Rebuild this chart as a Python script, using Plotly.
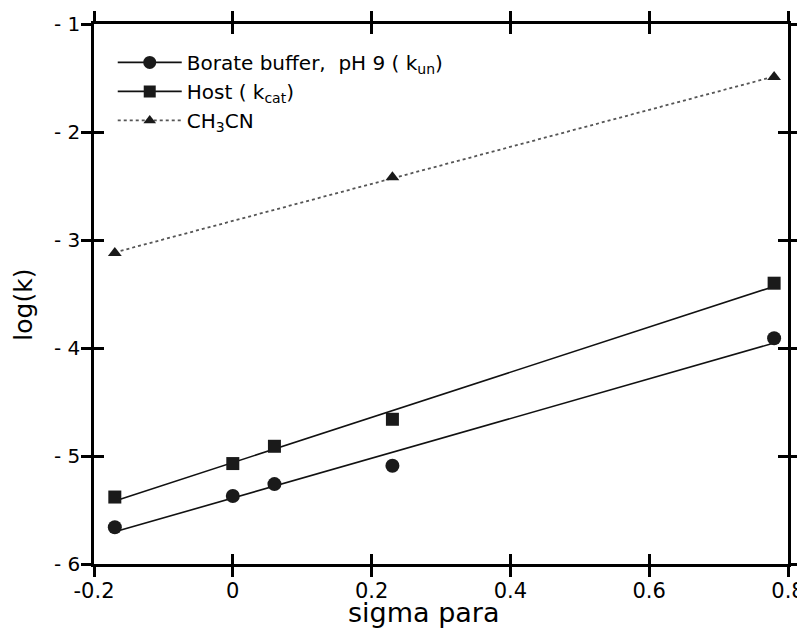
import numpy as np
import plotly.graph_objects as go

# ---- data ----
sigma_borate = [-0.17, 0.0, 0.06, 0.23, 0.78]
logk_borate = [-5.66, -5.37, -5.26, -5.09, -3.91]

sigma_host = [-0.17, 0.0, 0.06, 0.23, 0.78]
logk_host = [-5.38, -5.07, -4.91, -4.66, -3.40]

sigma_ch3cn = [-0.17, 0.23, 0.78]
logk_ch3cn = [-3.12, -2.42, -1.49]

x_tickvals = [-0.2, 0, 0.2, 0.4, 0.6, 0.8]
x_ticktext = ["-0.2", "0", "0.2", "0.4", "0.6", "0.8"]
y_tickvals = [-6, -5, -4, -3, -2, -1]
y_ticktext = ["- 6", "- 5", "- 4", "- 3", "- 2", "- 1"]

legend_names = ["Borate buffer,  pH 9 ( k<sub>un</sub>)",
                "Host ( k<sub>cat</sub>)",
                "CH<sub>3</sub>CN"]
x_title = "sigma para"
y_title = "log(k)"

FONT = "DejaVu Sans, Liberation Sans, Arial, sans-serif"

fig = go.Figure()


def fit_line(xs, ys):
    slope, icpt = np.polyfit(xs, ys, 1)
    xf = np.array([min(xs), max(xs)])
    return xf, slope * xf + icpt


series = [
    (sigma_borate, logk_borate, "circle", 14, "solid", "#111111", 1.6),
    (sigma_host, logk_host, "square", 13, "solid", "#111111", 1.6),
    (sigma_ch3cn, logk_ch3cn, "triangle-up", 12, "dot", "#555555", 1.8),
]

for (xs, ys, sym, sz, dash, lc, lw), name in zip(series, legend_names):
    xf, yf = fit_line(xs, ys)
    fig.add_trace(go.Scatter(x=xf, y=yf, mode="lines",
                             line=dict(color=lc, width=lw, dash=dash),
                             showlegend=False, hoverinfo="skip"))
    fig.add_trace(go.Scatter(x=xs, y=ys, mode="markers",
                             marker=dict(symbol=sym, size=sz, color="#1a1a1a"),
                             showlegend=False))
    # legend entry
    fig.add_trace(go.Scatter(x=[None], y=[None], mode="lines+markers", name=name,
                             line=dict(color=lc, width=lw, dash=dash),
                             marker=dict(symbol=sym, size=sz - 1, color="#1a1a1a")))

axis_common = dict(
    showgrid=False, zeroline=False, showline=True, linecolor="black",
    linewidth=2.5, ticks="outside", ticklen=10, tickwidth=2.5, tickcolor="black",
    mirror="allticks", automargin=False, ticklabeloverflow="allow",
)

overlay_common = dict(
    showticklabels=False, showgrid=False, zeroline=False, showline=False,
    ticks="inside", ticklen=10, tickwidth=2.5, tickcolor="black",
    mirror="allticks", automargin=False,
)

fig.update_layout(
    width=797, height=621,
    margin=dict(l=86, r=17, t=16, b=65),
    paper_bgcolor="white", plot_bgcolor="white",
    font=dict(family=FONT, color="black"),
    xaxis=dict(range=[-0.2, 0.8], tickvals=x_tickvals, ticktext=x_ticktext,
               tickfont=dict(family=FONT, size=21, color="black"),
               ticklabelstandoff=-4,
               **axis_common),
    yaxis=dict(range=[-6, -1], tickvals=y_tickvals, ticktext=y_ticktext,
               tickfont=dict(family=FONT, size=20, color="black"),
               ticklabelstandoff=-3,
               **axis_common),
    # overlay axes to make ticks cross the frame (inside part)
    xaxis2=dict(range=[-0.2, 0.8], tickvals=x_tickvals, overlaying="x",
                side="bottom", **overlay_common),
    yaxis2=dict(range=[-6, -1], tickvals=y_tickvals, overlaying="y",
                side="left", **overlay_common),
    legend=dict(x=0.027, y=0.965, xanchor="left", yanchor="top",
                bgcolor="rgba(0,0,0,0)", font=dict(family=FONT, size=20),
                tracegroupgap=0, itemwidth=64),
    annotations=[
        dict(text=x_title, xref="paper", yref="paper", x=0.4755, y=-0.089,
             xanchor="center", yanchor="middle", showarrow=False,
             font=dict(family=FONT, size=27, color="black")),
        dict(text=y_title, xref="paper", yref="paper", x=-0.101, y=0.48,
             xanchor="center", yanchor="middle", showarrow=False, textangle=-90,
             font=dict(family=FONT, size=25, color="black")),
    ],
)

# invisible trace binding the overlay axes so they are drawn
fig.add_trace(go.Scatter(x=[None], y=[None], xaxis="x2", yaxis="y2",
                         showlegend=False, hoverinfo="skip"))

fig.write_html("out.html")
